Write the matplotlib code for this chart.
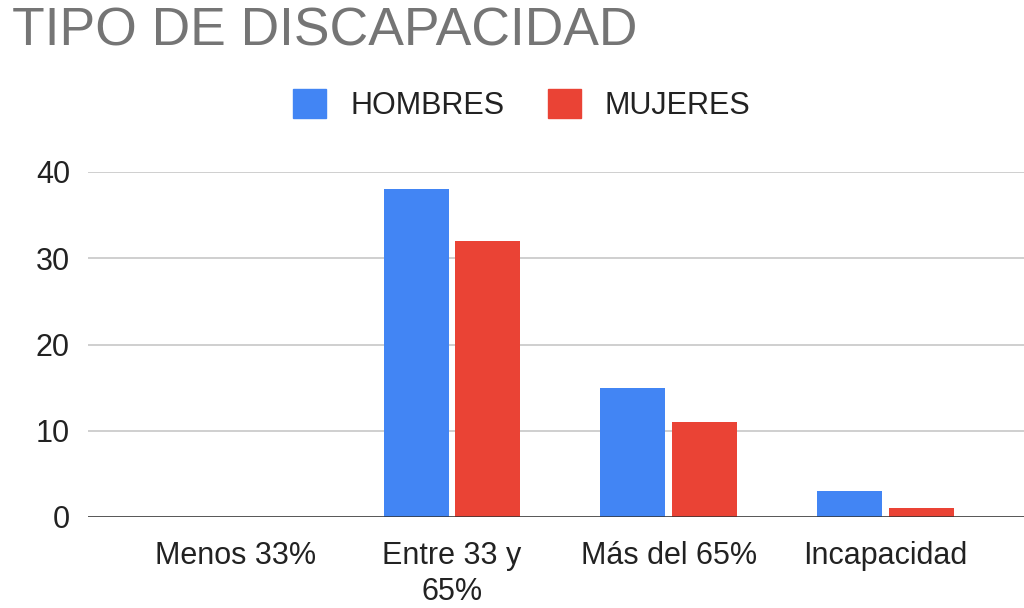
import matplotlib.pyplot as plt
import matplotlib.patches as mpatches
import numpy as np

categorias = ['Menos 33%', 'Entre 33 y\n65%', 'Más del 65%', 'Incapacidad']
hombres = [0, 38, 15, 3]
mujeres = [0, 32, 11, 1]
series = ['HOMBRES', 'MUJERES']
colores = ['#4285F4', '#EA4335']

plt.rcParams['font.family'] = ['Liberation Sans', 'DejaVu Sans']

fig = plt.figure(figsize=(10.24, 6.08), dpi=100)
ax = fig.add_axes([88 / 1024, 91 / 608, 936 / 1024, 345 / 608])

x = np.arange(len(categorias))
ancho = 0.30
desp = 0.166
ax.bar(x - desp, hombres, ancho, color=colores[0], linewidth=0, zorder=3)
ax.bar(x + desp, mujeres, ancho, color=colores[1], linewidth=0, zorder=3)

ax.set_xlim(-0.68, 3.64)
ax.set_ylim(0, 40)
ax.set_yticks([0, 10, 20, 30, 40])
ax.set_xticks(x)
ax.set_xticklabels(categorias, linespacing=1.27)

ax.grid(axis='y', color='#cccccc', linewidth=1.3, zorder=0)
ax.axhline(0, color='#333333', linewidth=1.8, zorder=4)
for s in ax.spines.values():
    s.set_visible(False)
ax.tick_params(axis='both', length=0, labelsize=22, colors='#222222')
ax.tick_params(axis='y', pad=13)
ax.tick_params(axis='x', pad=17)

fig.text(12 / 1024, 1 - 31 / 608, 'TIPO DE DISCAPACIDAD', fontsize=38.5,
         color='#757575', va='center', ha='left')

handles = [mpatches.Patch(color=c, label=l) for c, l in zip(colores, series)]
fig.legend(handles=handles, loc='center', bbox_to_anchor=(522 / 1024, 1 - 105 / 608),
           ncol=2, frameon=False, fontsize=22, handlelength=1.08, handleheight=1.08,
           handletextpad=0.79, columnspacing=1.41, labelcolor='#222222')

fig.savefig('out.png', dpi=100)
